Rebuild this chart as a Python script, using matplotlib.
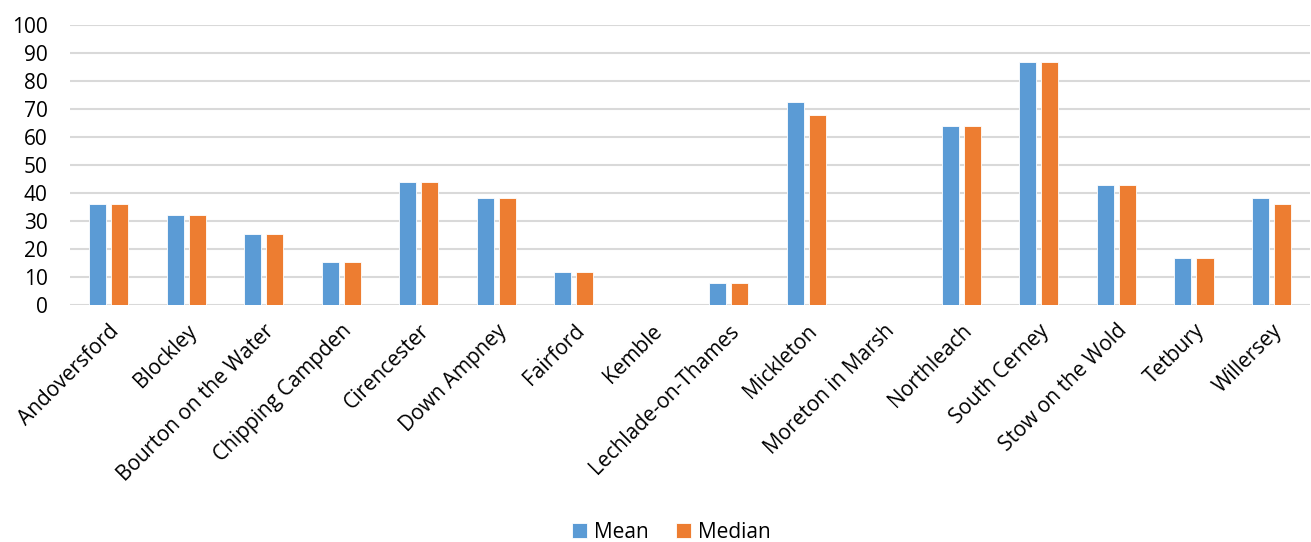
import numpy as np
import matplotlib.pyplot as plt

plt.rcParams['font.family'] = ['Open Sans', 'DejaVu Sans']

towns = ['Andoversford', 'Blockley', 'Bourton on the Water', 'Chipping Campden',
         'Cirencester', 'Down Ampney', 'Fairford', 'Kemble', 'Lechlade-on-Thames',
         'Mickleton', 'Moreton in Marsh', 'Northleach', 'South Cerney',
         'Stow on the Wold', 'Tetbury', 'Willersey']
mean = [36, 32, 25.4, 15.4, 43.9, 38.4, 11.9, 0, 7.9, 72.6, 0, 63.9, 86.9, 43, 16.9, 38.4]
median = [36, 32, 25.4, 15.4, 43.9, 38.4, 11.9, 0, 7.9, 68, 0, 63.9, 86.9, 43, 16.9, 36]

fig = plt.figure(figsize=(13.11, 5.42), dpi=100)
ax = fig.add_axes([0.0534, 0.437, 0.946, 0.517])

x = np.arange(len(towns))
w = 0.22
gap = 0.065
ax.bar(x - (w + gap) / 2, mean, w, color='#5B9BD5', edgecolor='white', linewidth=0.6,
       label='Mean', zorder=3)
ax.bar(x + (w + gap) / 2, median, w, color='#ED7D31', edgecolor='white', linewidth=0.6,
       label='Median', zorder=3)

ax.set_xlim(-0.5, len(towns) - 0.5)
ax.set_ylim(0, 100)
ax.set_yticks(range(0, 101, 10))
ax.yaxis.grid(True, color='#d9d9d9', linewidth=1.5, zorder=0)
for s in ax.spines.values():
    s.set_visible(False)
ax.tick_params(axis='both', length=0, labelsize=15, colors='black')
ax.tick_params(axis='y', pad=16)
ax.tick_params(axis='x', pad=11)

ax.set_xticks(x)
ax.set_xticklabels(towns, rotation=45, ha='right', va='top', rotation_mode='anchor')

ax.legend(loc='lower center', bbox_to_anchor=(0.485, -0.915), ncol=2, frameon=False,
          fontsize=15, handlelength=0.7, handleheight=0.7, columnspacing=1.3,
          handletextpad=0.35)

fig.savefig('out.png', dpi=100)
